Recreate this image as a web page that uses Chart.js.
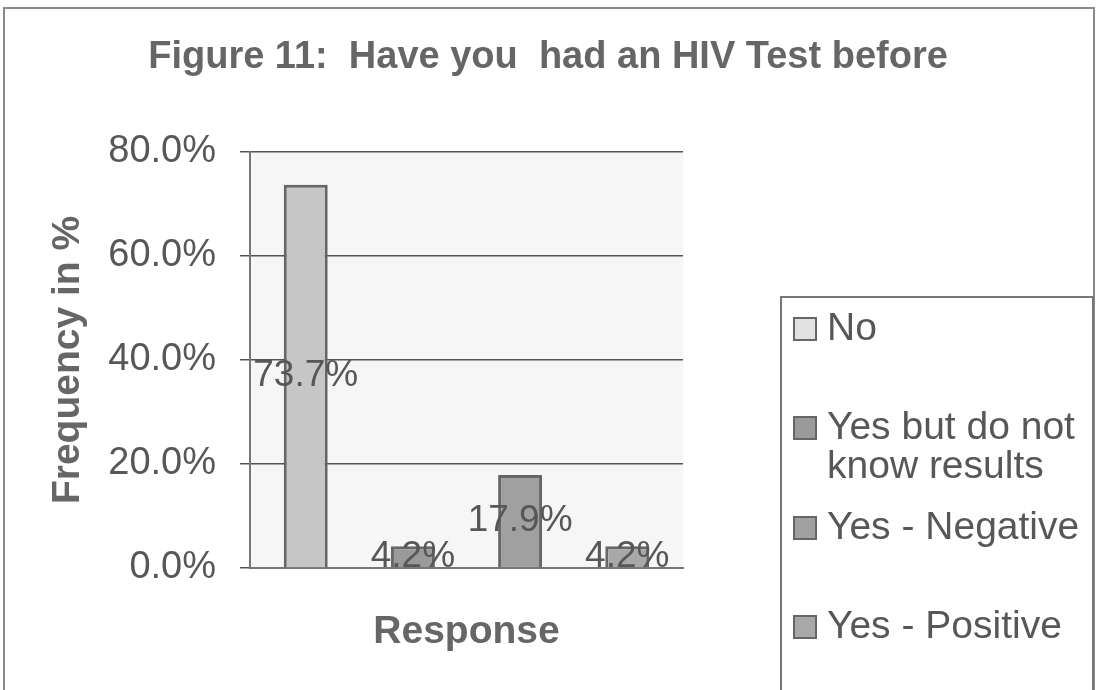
<!DOCTYPE html>
<html>
<head>
<meta charset="utf-8">
<script src="https://cdn.jsdelivr.net/npm/chart.js@4.4.1/dist/chart.umd.min.js"></script>
<style>
html,body{margin:0;padding:0;background:#fff;}
#wrap{position:relative;width:1098px;height:690px;}
</style>
</head>
<body>
<div id="wrap"><canvas id="c" width="1098" height="690"></canvas></div>
<script>
const titleText = 'Figure 11:  Have you  had an HIV Test before';
const categories = ['Response'];
const seriesNames = ['No', 'Yes but do not know results', 'Yes - Negative', 'Yes - Positive'];
const legendLines = [['No'], ['Yes but do not', 'know results'], ['Yes - Negative'], ['Yes - Positive']];
const seriesValues = [73.7, 4.2, 17.9, 4.2];
const seriesColors = ['#c6c6c6', '#9a9a9a', '#a0a0a0', '#a8a8a8'];
const yTicks = [0, 20, 40, 60, 80];

const TXT = '#575757';
const FONT = '"Liberation Sans", Arial, sans-serif';

const decor = {
  id: 'decor',
  beforeDraw(chart) {
    const ctx = chart.ctx;
    ctx.save();
    ctx.fillStyle = '#fff';
    ctx.fillRect(0, 0, chart.width, chart.height);
    ctx.strokeStyle = '#8a8a8a';
    ctx.lineWidth = 2;
    ctx.strokeRect(4, 8, 1090, 700);
    const a = chart.chartArea;
    ctx.fillStyle = '#f6f6f6';
    ctx.fillRect(a.left, a.top, a.right - a.left, a.bottom - a.top);
    ctx.restore();
  },
  afterDraw(chart) {
    const ctx = chart.ctx;
    ctx.save();
    // title
    ctx.fillStyle = '#666';
    ctx.font = 'bold 38px ' + FONT;
    ctx.textAlign = 'center';
    ctx.textBaseline = 'middle';
    ctx.fillText(titleText, 548, 58);
    // data labels
    ctx.font = '37px ' + FONT;
    ctx.fillStyle = TXT;
    chart.data.datasets.forEach((ds, i) => {
      const meta = chart.getDatasetMeta(i);
      meta.data.forEach((el, j) => {
        const v = ds.data[j];
        ctx.fillText(v.toFixed(1) + '%', el.x, (el.y + el.base) / 2);
      });
    });
    // legend
    ctx.strokeStyle = '#777';
    ctx.lineWidth = 2;
    ctx.strokeRect(781, 297, 312, 420);
    const ys = [329, 428, 528, 627];
    ctx.textAlign = 'left';
    ctx.font = '39px ' + FONT;
    legendLines.forEach((lines, i) => {
      const y = ys[i];
      ctx.fillStyle = i === 0 ? '#e2e2e2' : seriesColors[i];
      ctx.fillRect(794, y - 11, 22, 22);
      ctx.strokeStyle = '#666';
      ctx.lineWidth = 2;
      ctx.strokeRect(794, y - 11, 22, 22);
      ctx.fillStyle = TXT;
      lines.forEach((t, k) => ctx.fillText(t, 827, y + k * 39));
    });
    ctx.restore();
  }
};

new Chart(document.getElementById('c'), {
  type: 'bar',
  data: {
    labels: categories,
    datasets: seriesNames.map((n, i) => ({
      label: n,
      data: [seriesValues[i]],
      backgroundColor: seriesColors[i],
      borderColor: '#666',
      borderWidth: 3,
      barPercentage: 0.41,
      categoryPercentage: 0.99
    }))
  },
  options: {
    responsive: false,
    animation: false,
    layout: { padding: { top: 152, right: 415, left: 0, bottom: 0 } },
    plugins: { legend: { display: false }, title: { display: false }, tooltip: { enabled: false } },
    scales: {
      x: {
        grid: { display: false },
        border: { color: '#777', width: 2 },
        ticks: { display: false },
        title: { display: true, text: 'Response', color: '#666', font: { family: FONT, size: 39, weight: 'bold' }, padding: { top: 0, bottom: 34 } },
        afterFit(s) { s.height = 122; }
      },
      y: {
        min: 0, max: 80,
        afterBuildTicks(s) { s.ticks = yTicks.map(v => ({ value: v })); },
        grid: { color: '#555', lineWidth: 1.5, tickLength: 10, drawTicks: true },
        border: { color: '#777', width: 2 },
        ticks: { color: TXT, padding: 24, font: { family: FONT, size: 38 }, callback: v => v.toFixed(1) + '%' },
        title: { display: true, text: 'Frequency in %', color: '#666', font: { family: FONT, size: 39, weight: 'bold' }, padding: { top: 45, bottom: 0 } },
        afterFit(s) { s.width = 250; }
      }
    }
  },
  plugins: [decor]
});
</script>
</body>
</html>
